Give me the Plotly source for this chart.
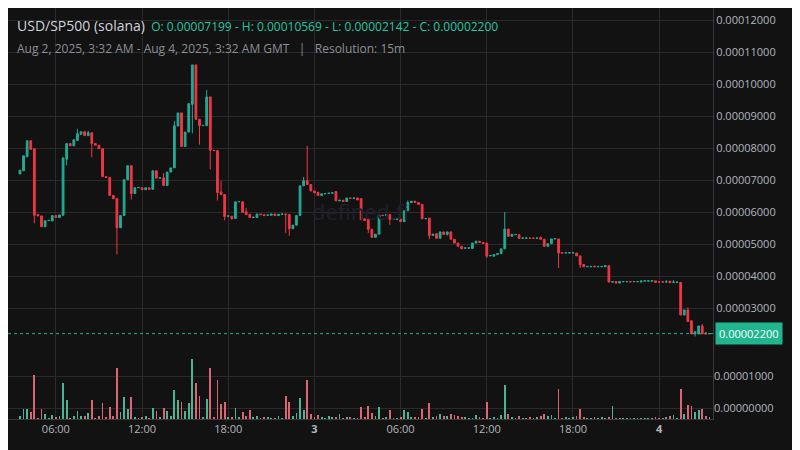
import plotly.graph_objects as go
import pandas as pd

# price values in units of 1e-6
opens = [71.9, 72.9, 77.3, 82.3, 79.8, 59.2, 58.8, 55.4, 57.3, 57.2, 58.9, 58.3, 59.0, 76.5, 81.4, 80.7,
         82.4, 84.3, 85.1, 83.9, 84.8, 81.4, 80.9, 79.8, 71.1, 70.8, 65.2, 64.2, 55.1, 58.9, 70.1, 74.5,
         65.8, 67.6, 67.6, 67.0, 67.6, 67.1, 72.9, 70.6, 70.7, 68.3, 72.5, 73.8, 86.9, 91.0, 80.5, 85.0,
         93.7, 106.0, 89.0, 87.0, 87.0, 96.0, 79.3, 79.2, 66.3, 65.5, 58.7, 58.7, 58.0, 63.2, 63.2, 60.1,
         59.3, 58.3, 58.3, 59.4, 59.2, 59.0, 59.0, 59.4, 58.9, 59.3, 59.4, 59.2, 54.8, 55.9, 58.9, 68.2,
         69.8, 68.6, 66.6, 66.2, 65.2, 65.7, 65.8, 65.9, 66.4, 63.5, 63.7, 63.3, 64.4, 64.3, 64.4, 64.2,
         57.9, 57.7, 54.6, 52.1, 53.1, 59.0, 58.9, 59.2, 57.7, 57.7, 57.8, 57.0, 60.4, 63.0, 63.4, 63.0,
         62.4, 57.9, 58.1, 52.7, 53.2, 51.8, 53.8, 53.0, 53.8, 51.5, 50.3, 49.3, 48.7, 48.7, 48.6, 50.3,
         50.9, 50.5, 50.3, 46.3, 46.2, 46.7, 47.0, 48.5, 54.7, 52.4, 52.9, 52.9, 51.8, 51.8, 51.9, 51.9,
         51.8, 52.0, 51.5, 49.3, 50.1, 51.6, 51.6, 47.3, 47.2, 47.2, 47.2, 47.2, 46.3, 43.6, 42.9, 42.9,
         43.0, 42.9, 42.9, 42.9, 43.2, 38.1, 38.3, 37.8, 38.2, 38.2, 38.3, 38.2, 38.2, 38.1, 38.4, 38.4,
         38.4, 38.5, 38.2, 38.2, 38.1, 38.4, 38.0, 38.0, 38.0, 27.8, 29.4, 26.0, 21.9, 21.9, 24.4, 22.2,
         21.9]
closes = [73.1, 77.6, 82.3, 79.6, 59.0, 58.8, 55.4, 57.3, 57.4, 58.9, 58.3, 59.1, 76.8, 81.4, 80.7, 82.6,
          84.5, 85.1, 83.9, 84.8, 81.4, 80.9, 79.8, 71.1, 70.8, 65.2, 64.2, 55.1, 58.9, 70.1, 74.5, 65.8,
          67.6, 67.7, 67.0, 67.6, 67.1, 72.9, 70.6, 70.7, 68.3, 72.5, 73.8, 87.0, 91.0, 80.5, 85.0, 93.9,
          106.0, 89.0, 87.0, 87.1, 96.0, 79.3, 79.2, 66.1, 65.5, 58.6, 58.8, 58.0, 63.2, 63.3, 59.9, 59.2,
          58.3, 58.4, 59.4, 59.2, 58.9, 59.1, 59.4, 58.9, 59.3, 59.4, 59.2, 54.8, 55.9, 58.9, 68.2, 69.8,
          68.6, 66.6, 66.0, 65.2, 65.7, 65.8, 65.9, 66.0, 63.5, 63.7, 63.3, 64.4, 64.3, 64.4, 63.8, 57.6,
          57.4, 54.6, 52.1, 53.1, 59.1, 58.9, 59.2, 57.7, 57.8, 57.8, 57.0, 60.4, 63.0, 63.4, 63.0, 62.4,
          57.9, 58.0, 52.7, 53.1, 51.8, 53.8, 53.0, 53.8, 51.5, 50.3, 49.3, 48.5, 48.8, 48.8, 50.3, 50.9,
          50.5, 50.2, 46.2, 46.4, 46.7, 47.0, 48.5, 54.7, 52.4, 53.0, 53.0, 51.8, 51.9, 51.9, 51.8, 51.8,
          51.9, 51.5, 49.3, 50.1, 51.6, 51.7, 47.2, 47.2, 47.3, 47.3, 47.3, 46.3, 43.5, 42.9, 43.0, 43.0,
          42.9, 43.0, 43.0, 43.2, 38.1, 38.2, 37.8, 38.3, 38.3, 38.3, 38.2, 38.3, 38.3, 38.4, 38.5, 38.5,
          38.5, 38.0, 38.1, 38.1, 38.2, 37.9, 38.1, 38.1, 27.8, 29.4, 25.8, 21.9, 22.6, 24.4, 21.9, 21.9,
          22.0]
# candle index (0-based) -> wick extreme beyond the body
wick_high = {12: 77.3, 16: 86.0, 18: 85.4, 19: 85.4, 40: 72.2, 43: 88.5, 52: 98.2, 56: 69.7, 63: 61.3,
             79: 71.0, 80: 80.7, 108: 63.6, 135: 60.0, 137: 53.2, 145: 52.4, 160: 43.3, 173: 38.7,
             180: 38.7, 182: 38.7, 186: 30.2, 190: 25.0, 191: 22.6}
wick_low = {4: 56.5, 13: 74.6, 20: 77.1, 27: 46.8, 31: 63.9, 48: 84.6, 50: 81.1, 53: 73.3, 55: 63.6,
            57: 57.4, 59: 57.6, 74: 53.5, 75: 52.6, 97: 53.4, 103: 56.0, 114: 51.5, 119: 52.7, 130: 45.7,
            150: 42.5, 156: 42.5, 188: 21.1}
# volume in units of 1e-7, measured from the bottom of the pane
volume = [8, 30, 30, 21, 136, 4, 30, 15, 4, 11, 6, 9, 111, 58, 4, 8,
          26, 8, 8, 18, 58, 4, 8, 49, 6, 36, 8, 158, 21, 68, 30, 68,
          6, 4, 6, 8, 4, 33, 24, 6, 33, 24, 8, 90, 58, 52, 24, 49,
          186, 111, 71, 5, 61, 158, 5, 121, 46, 52, 5, 7, 33, 5, 21, 8,
          27, 5, 8, 4, 5, 5, 3, 3, 8, 3, 71, 52, 8, 18, 65, 27,
          121, 15, 5, 11, 5, 4, 8, 5, 5, 15, 4, 5, 6, 3, 3, 36,
          5, 40, 18, 8, 36, 3, 5, 27, 4, 3, 7, 27, 21, 5, 7, 5,
          30, 3, 49, 5, 8, 15, 8, 8, 15, 11, 8, 5, 6, 3, 3, 11,
          5, 4, 52, 3, 5, 3, 11, 105, 15, 5, 3, 8, 3, 3, 5, 3,
          5, 8, 15, 8, 11, 3, 93, 3, 5, 3, 5, 8, 30, 5, 3, 3,
          5, 3, 5, 3, 5, 40, 3, 3, 3, 3, 3, 3, 3, 3, 3, 3,
          3, 5, 3, 3, 5, 8, 11, 3, 93, 15, 43, 40, 21, 27, 30, 8,
          5]

times = pd.date_range("2025-08-02 03:30", periods=len(opens), freq="15min")
o = [v * 1e-6 for v in opens]
c = [v * 1e-6 for v in closes]
h = [max(a, b, wick_high.get(i, 0)) * 1e-6 for i, (a, b) in enumerate(zip(opens, closes))]
l = [min(a, b, wick_low.get(i, 999)) * 1e-6 for i, (a, b) in enumerate(zip(opens, closes))]

GREEN = "#22ab94"
RED = "#f23645"
vol_colors = ["rgba(80,200,165,0.9)" if b >= a else "rgba(245,110,125,0.9)" for a, b in zip(opens, closes)]
vol_base = -0.34e-5

fig = go.Figure()
fig.add_trace(go.Bar(x=times, y=[v * 1e-7 for v in volume], base=vol_base,
                     marker=dict(color=vol_colors, line_width=0), width=15 * 60 * 1000 * 0.5,
                     yaxis="y2", showlegend=False, hoverinfo="skip"))
fig.add_trace(go.Candlestick(x=times, open=o, high=h, low=l, close=c, showlegend=False,
                             increasing=dict(line=dict(color=GREEN, width=1), fillcolor=GREEN),
                             decreasing=dict(line=dict(color=RED, width=1), fillcolor=RED),
                             whiskerwidth=0))

price_ticks = [k * 1e-5 for k in range(3, 13)]
last = c[-1]
fig.add_hline(y=last, line=dict(color=GREEN, width=1, dash="dot"))

x_ticks = ["2025-08-02 06:00", "2025-08-02 12:00", "2025-08-02 18:00", "2025-08-03 00:00",
           "2025-08-03 06:00", "2025-08-03 12:00", "2025-08-03 18:00", "2025-08-04 00:00"]
x_labels = ["06:00", "12:00", "18:00", "<b>3</b>", "06:00", "12:00", "18:00", "<b>4</b>"]

fig.update_layout(
    width=800, height=450, margin=dict(l=0, r=95, t=0, b=39, autoexpand=False),
    paper_bgcolor="#121212", plot_bgcolor="#121212",
    font=dict(family="Open Sans", color="#b2b5be", size=11),
    bargap=0,
    xaxis=dict(range=["2025-08-02 02:40", "2025-08-04 03:45"], rangeslider=dict(visible=False),
               tickvals=x_ticks, ticktext=x_labels, showgrid=True, gridcolor="#2a2a2a", automargin=False,
               showline=True, linecolor="#3a3a3a", ticks="", zeroline=False, tickfont=dict(size=11)),
    yaxis=dict(side="right", range=[-4.7e-6, 123.8e-6], tickvals=price_ticks, automargin=False,
               ticktext=[f"{v:.8f}" for v in price_ticks], gridcolor="#2a2a2a", zeroline=False,
               showline=True, linecolor="#3a3a3a", ticks="", tickfont=dict(size=11)),
    yaxis2=dict(side="right", overlaying="y", range=[vol_base, vol_base + 12.84e-5], automargin=False,
                tickvals=[0, 1e-5], ticktext=["0.00000000", "0.00001000"], gridcolor="#2a2a2a",
                zeroline=False, ticks="", tickfont=dict(size=11)),
)

fig.add_annotation(xref="paper", yref="y", x=1.0, y=last, xanchor="left", text=f"{last:.8f}",
                   showarrow=False, bgcolor="#1fb58f", font=dict(color="#ffffff", size=11),
                   borderpad=3, xshift=2)
fig.add_annotation(xref="paper", yref="paper", x=0.5, y=0.5, text="defined.fi", showarrow=False,
                   font=dict(size=22, color="#20202e"), yshift=3)
fig.add_annotation(xref="paper", yref="paper", x=0, y=1, xanchor="left", yanchor="top", xshift=7, yshift=-6,
                   showarrow=False, align="left",
                   text="<span style='color:#d1d4dc;font-size:14px'>USD/SP500 (solana)</span>"
                        "  <span style='color:#26c6a4'>O: 0.00007199 - H: 0.00010569 - L: 0.00002142 - C: 0.00002200</span>",
                   font=dict(size=12))
fig.add_annotation(xref="paper", yref="paper", x=0, y=1, xanchor="left", yanchor="top", xshift=7, yshift=-30,
                   showarrow=False, align="left",
                   text="Aug 2, 2025, 3:32 AM - Aug 4, 2025, 3:32 AM GMT   |   Resolution: 15m",
                   font=dict(size=12, color="#8a8e97"))

fig.write_html("out.html")
